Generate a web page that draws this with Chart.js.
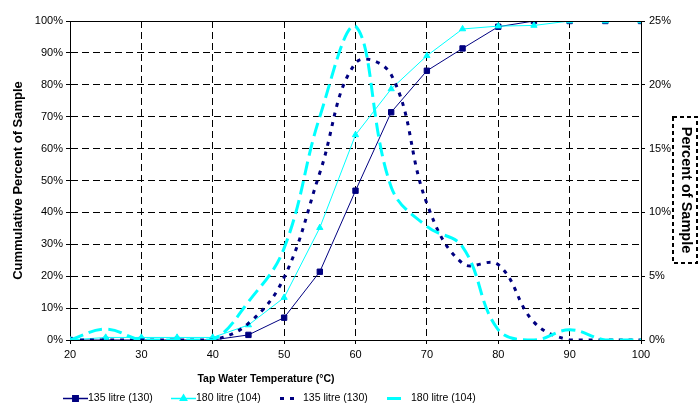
<!DOCTYPE html>
<html>
<head>
<meta charset="utf-8">
<script src="https://cdn.jsdelivr.net/npm/chart.js@4.4.0/dist/chart.umd.min.js"></script>
<style>
  html, body { margin: 0; padding: 0; background: #fff; }
</style>
</head>
<body>
<canvas id="chart" width="699" height="407"></canvas>
<script>
// tap water temperature (°C)
const temps = [20, 25, 30, 35, 40, 45, 50, 55, 60, 65, 70, 75, 80, 85, 90, 95, 100];
const xTicks = [20, 30, 40, 50, 60, 70, 80, 90, 100];

// cumulative percent of sample (left axis)
const cum135 = [0, 0, 0, 0, 0, 1.6, 7.0, 21.4, 46.8, 71.4, 84.4, 91.4, 98.2, 100, 100, 100, 100];
const cum180 = [0, 0.8, 0.8, 0.8, 0.8, 4.7, 13.3, 35.2, 64.3, 78.7, 89.1, 97.5, 98.4, 98.6, 100, 100, 100];

// percent of sample in each band (right axis)
const pct135 = [0, 0, 0, 0, 0, 1.3, 4.9, 13.1, 21.7, 20.8, 10.7, 6.0, 5.9, 1.4, 0, 0, 0];
const pct180 = [0, 0.85, 0, 0, 0, 3.0, 7.2, 17.5, 24.6, 12.0, 8.9, 7.3, 0.8, 0, 0.8, 0, 0];

const seriesLabels = ['135 litre (130)', '180 litre (104)', '135 litre (130)', '180 litre (104)'];

const NAVY = '#000080';
const CYAN = '#00ffff';
const FONT = '"Liberation Sans", Arial, sans-serif';

const toPoints = (vals) => temps.map((t, i) => ({ x: t, y: vals[i] }));

// legend, x title, right title with its dashed box
const extras = {
    id: 'extras',
    afterDraw(chart) {
        const { ctx, chartArea: a } = chart;
        ctx.save();

        // top edge of the plot frame
        ctx.strokeStyle = '#000';
        ctx.lineWidth = 1;
        ctx.setLineDash([]);
        const ty = Math.round(a.top) + 0.5;
        ctx.beginPath();
        ctx.moveTo(a.left, ty);
        ctx.lineTo(a.right, ty);
        ctx.stroke();

        // x axis title
        ctx.fillStyle = '#000';
        ctx.font = 'bold 10.5px ' + FONT;
        ctx.textAlign = 'center';
        ctx.textBaseline = 'middle';
        ctx.fillText('Tap Water Temperature (°C)', 266, 379);

        // right axis title
        ctx.save();
        ctx.translate(686, 190);
        ctx.rotate(Math.PI / 2);
        ctx.font = 'bold 14.5px ' + FONT;
        ctx.fillText('Percent of Sample', 0, 0);
        ctx.restore();
        ctx.setLineDash([4, 3]);
        ctx.lineWidth = 2;
        ctx.strokeRect(673, 117, 24, 146);

        // legend
        const ly = 398.5;
        const items = [
            { x: 63, len: 25, text: 88 },
            { x: 171, len: 25, text: 196 },
            { x: 280, len: 17, text: 303 },
            { x: 387, len: 15, text: 411 }
        ];
        ctx.font = '10.5px ' + FONT;
        ctx.textAlign = 'left';
        chart.data.datasets.forEach((ds, i) => {
            const it = items[i];
            ctx.strokeStyle = ds.borderColor;
            ctx.lineWidth = ds.borderWidth === 1 ? 1.5 : ds.borderWidth;
            ctx.setLineDash(ds.borderDash || []);
            ctx.beginPath();
            ctx.moveTo(it.x, ly);
            ctx.lineTo(it.x + it.len, ly);
            ctx.stroke();
            ctx.setLineDash([]);
            if (ds.pointRadius > 0) {
                Chart.helpers.drawPoint(ctx, {
                    pointStyle: ds.pointStyle,
                    radius: ds.pointRadius,
                    borderWidth: 1
                }, it.x + it.len / 2, ly);
                ctx.fillStyle = ds.backgroundColor;
                ctx.fill();
            }
            ctx.fillStyle = '#000';
            ctx.fillText(ds.label, it.text, ly);
        });
        ctx.restore();
    }
};

const gridLines = { color: '#000', lineWidth: 1, tickLength: 4, tickColor: '#000' };
const tickFont = { family: FONT, size: 11 };

new Chart(document.getElementById('chart'), {
    type: 'line',
    data: {
        datasets: [{
            label: seriesLabels[0],
            data: toPoints(cum135),
            yAxisID: 'y',
            borderColor: NAVY,
            backgroundColor: NAVY,
            borderWidth: 1,
            pointStyle: 'rect',
            pointRadius: 3.8,
            pointBorderWidth: 1,
            tension: 0,
            order: 4
        }, {
            label: seriesLabels[1],
            data: toPoints(cum180),
            yAxisID: 'y',
            borderColor: CYAN,
            backgroundColor: CYAN,
            borderWidth: 1,
            pointStyle: 'triangle',
            pointRadius: 3.6,
            pointBorderWidth: 1,
            tension: 0,
            order: 3
        }, {
            label: seriesLabels[2],
            data: toPoints(pct135),
            yAxisID: 'y1',
            borderColor: NAVY,
            backgroundColor: NAVY,
            borderWidth: 3,
            borderDash: [4, 6],
            pointRadius: 0,
            tension: 0.4,
            order: 2
        }, {
            label: seriesLabels[3],
            data: toPoints(pct180),
            yAxisID: 'y1',
            borderColor: CYAN,
            backgroundColor: CYAN,
            borderWidth: 3,
            borderDash: [14, 6],
            pointRadius: 0,
            tension: 0.4,
            order: 1
        }]
    },
    options: {
        responsive: false,
        animation: false,
        layout: { padding: { top: 21, left: 0, right: 0, bottom: 0 } },
        plugins: {
            legend: { display: false },
            tooltip: { enabled: false }
        },
        scales: {
            x: {
                type: 'linear',
                position: 'bottom',
                min: 20,
                max: 100,
                afterBuildTicks: (s) => { s.ticks = xTicks.map(v => ({ value: v })); },
                afterFit: (s) => { s.height = 67; },
                ticks: { font: tickFont, color: '#000', padding: 4, maxRotation: 0 },
                grid: gridLines,
                border: { color: '#000', width: 1, dash: [7, 4] }
            },
            y: {
                position: 'left',
                min: 0,
                max: 100,
                afterFit: (s) => { s.width = 70; },
                ticks: { stepSize: 10, font: tickFont, color: '#000', padding: 3, callback: v => v + '%' },
                grid: gridLines,
                border: { color: '#000', width: 1, dash: [7, 4] },
                title: {
                    display: true,
                    text: 'Cummulative Percent of Sample',
                    color: '#000',
                    font: { family: FONT, size: 13, weight: 'bold' },
                    padding: { top: 11, bottom: 0 }
                }
            },
            y1: {
                position: 'right',
                min: 0,
                max: 25,
                afterFit: (s) => { s.width = 58; },
                ticks: { stepSize: 5, font: tickFont, color: '#000', padding: 4, callback: v => v + '%' },
                grid: { drawOnChartArea: false, tickLength: 4, tickColor: '#000', color: '#000' },
                border: { color: '#000', width: 1 }
            }
        }
    },
    plugins: [extras]
});
</script>
</body>
</html>
